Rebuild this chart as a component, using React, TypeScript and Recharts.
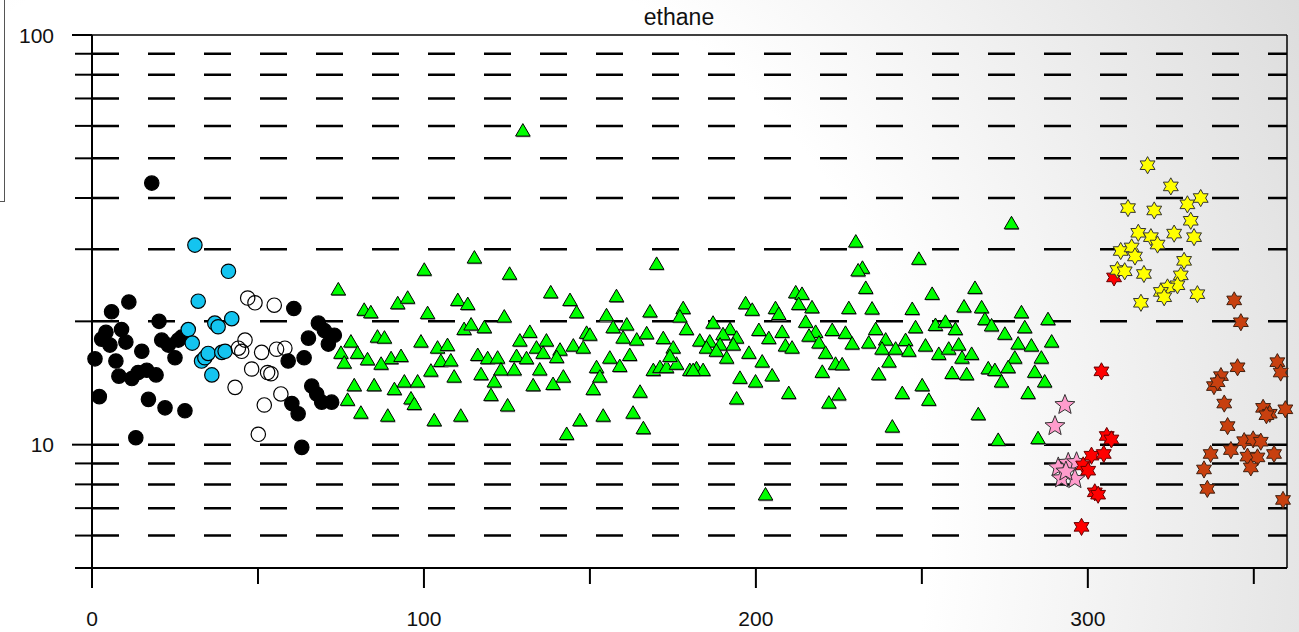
import React from "react";
import { ScatterChart, Scatter, XAxis, YAxis, ReferenceLine } from "recharts";

// axis setup
const xTicks = [0, 50, 100, 150, 200, 250, 300, 350];
const xLabels = [0, 100, 200, 300];
const yTicks = [5, 6, 7, 8, 9, 10, 20, 30, 40, 50, 60, 70, 80, 90, 100];
const yLabels = [10, 100];
const gridLevels = [6, 7, 8, 9, 10, 20, 30, 40, 50, 60, 70, 80, 90];

// series values, [x, y]
const blackDots: [number, number][] = [
  [18.0, 43.5], [11.1, 22.3], [5.9, 21.1], [20.2, 20.0], [4.2, 18.8], [8.9, 19.1],
  [2.9, 18.1], [5.4, 17.5], [10.2, 17.8], [21.0, 18.0], [23.0, 17.5], [26.0, 18.0],
  [27.0, 18.3], [15.0, 16.9], [0.9, 16.2], [7.2, 16.0], [25.0, 16.3], [8.1, 14.7],
  [12.0, 14.5], [13.9, 15.0], [16.5, 15.2], [19.3, 14.8], [2.2, 13.1], [17.0, 12.9],
  [22.0, 12.3], [28.0, 12.1], [13.2, 10.4], [60.8, 21.5], [68.2, 19.8], [70.0, 19.0],
  [73.0, 18.5], [71.2, 17.6], [65.2, 18.2], [63.9, 16.3], [59.1, 16.0], [66.2, 13.9],
  [67.7, 13.3], [69.2, 12.7], [72.2, 12.7], [60.2, 12.6], [62.1, 11.9], [63.2, 9.85],
];

const cyanDots: [number, number][] = [
  [31.0, 30.7], [41.1, 26.5], [32.0, 22.4], [29.0, 19.1], [30.2, 17.7], [37.0, 19.8],
  [38.0, 19.4], [42.1, 20.3], [33.0, 16.0], [34.0, 16.3], [35.0, 16.7], [36.1, 14.8],
  [39.1, 16.8], [40.1, 16.9],
];

const openDots: [number, number][] = [
  [46.9, 22.8], [49.1, 22.2], [54.9, 21.9], [46.1, 18.0], [44.1, 17.2], [45.1, 16.9],
  [51.1, 16.8], [55.6, 17.1], [58.1, 17.2], [48.1, 15.3], [52.9, 15.0], [53.9, 14.9],
  [43.1, 13.8], [51.9, 12.5], [56.9, 13.3], [50.1, 10.6],
];

const greenTriangles: [number, number][] = [
  [74.2, 24.0], [82.0, 21.4], [84.0, 21.1], [92.1, 22.2], [95.1, 22.9], [100.1, 26.8],
  [115.2, 28.7], [125.8, 26.2], [110.2, 22.6], [113.2, 22.1], [101.1, 21.0], [124.2, 20.6],
  [112.1, 19.2], [114.2, 19.7], [118.2, 19.4], [78.0, 17.9], [75.0, 16.8], [80.0, 16.8],
  [76.0, 15.9], [83.0, 16.2], [86.0, 18.4], [88.1, 18.3], [90.1, 16.3], [93.1, 16.5],
  [87.1, 15.8], [99.1, 17.9], [104.1, 17.3], [107.1, 17.55], [105.1, 16.05], [108.1, 16.1],
  [102.1, 15.2], [109.1, 14.7], [116.2, 16.6], [119.2, 16.3], [122.2, 16.35], [127.9, 16.5],
  [123.2, 15.3], [127.2, 15.3], [117.2, 14.9], [121.2, 14.3], [120.2, 13.25], [125.2, 12.5],
  [79.0, 14.0], [85.0, 14.0], [91.1, 13.7], [94.1, 14.3], [98.1, 14.3], [96.1, 13.0],
  [97.1, 12.6], [77.0, 12.9], [81.0, 12.0], [89.1, 11.8], [103.1, 11.5], [111.1, 11.8],
  [128.9, 18.0], [129.8, 58.6],
  [138.2, 23.6], [144.0, 22.6], [146.0, 21.1], [158.0, 23.1], [170.1, 27.7], [155.0, 20.75],
  [157.0, 19.4], [161.1, 19.7], [168.1, 21.2], [178.1, 21.6], [177.1, 20.6], [179.1, 19.2],
  [187.1, 19.9], [192.2, 19.2], [190.1, 18.65], [194.2, 18.3], [131.9, 18.9], [136.9, 18.0],
  [133.9, 17.3], [135.9, 16.8], [141.0, 17.1], [140.0, 16.4], [145.0, 17.5], [148.0, 17.3],
  [149.0, 18.8], [150.0, 18.6], [160.0, 18.3], [164.1, 18.1], [167.1, 18.75], [172.1, 18.25],
  [175.1, 17.3], [183.1, 18.0], [186.1, 17.9], [189.2, 17.6], [193.2, 17.6], [185.1, 17.3],
  [188.1, 17.0], [191.2, 16.35], [130.9, 16.3], [134.9, 15.3], [156.0, 16.35], [162.0, 16.6],
  [159.0, 15.6], [152.0, 15.5], [153.0, 14.7], [169.1, 15.25], [171.1, 15.5], [173.1, 15.5],
  [176.1, 15.8], [174.1, 16.5], [180.1, 15.25], [182.1, 15.4], [184.1, 15.25], [181.1, 15.25],
  [142.0, 14.7], [132.9, 14.0], [138.9, 14.1], [151.0, 13.7], [165.1, 13.5], [147.0, 11.5],
  [154.0, 11.8], [163.0, 12.0], [166.1, 11.0], [143.0, 10.65], [195.2, 14.6], [194.2, 13.0],
  [230.1, 31.4], [249.1, 28.5], [232.1, 27.1], [230.8, 26.7], [233.1, 24.2], [253.1, 23.4],
  [266.0, 24.2], [212.0, 23.6], [213.9, 23.4], [212.9, 22.1], [216.9, 21.7], [196.9, 22.2],
  [198.9, 21.4], [205.9, 21.6], [206.9, 20.9], [228.0, 21.6], [235.0, 21.55], [247.1, 21.5],
  [262.7, 21.8], [215.0, 20.0], [200.9, 19.1], [207.9, 18.9], [203.9, 18.25], [218.0, 18.9],
  [216.0, 18.5], [219.0, 17.8], [223.0, 19.1], [227.0, 18.8], [229.0, 17.7], [236.1, 19.2],
  [239.1, 18.1], [234.0, 17.8], [238.0, 17.2], [245.1, 18.05], [242.1, 17.2], [246.1, 17.0],
  [248.1, 19.4], [254.1, 19.65], [257.1, 20.0], [260.1, 19.2], [251.1, 17.5], [255.1, 16.7],
  [258.1, 17.2], [261.1, 17.6], [262.1, 16.35], [208.9, 17.5], [210.9, 17.3], [197.9, 16.8],
  [221.0, 16.8], [224.0, 15.8], [226.0, 15.75], [240.1, 16.0], [201.9, 16.0], [220.0, 15.1],
  [237.0, 14.9], [259.1, 15.0], [263.5, 14.9], [199.9, 14.3], [204.9, 14.8], [209.9, 13.4],
  [225.0, 13.3], [222.0, 12.7], [244.1, 13.4], [250.1, 14.0], [252.1, 12.9], [241.1, 11.1],
  [202.9, 7.58],
  [277.0, 34.8], [268.0, 21.7], [280.0, 21.1], [269.0, 20.3], [271.0, 19.6], [281.0, 19.4],
  [288.0, 20.3], [275.0, 18.7], [279.0, 17.7], [283.0, 17.5], [289.1, 17.9], [265.0, 16.7],
  [278.0, 16.35], [286.0, 16.35], [270.0, 15.4], [272.0, 15.25], [276.0, 15.5], [284.0, 15.1],
  [274.0, 14.3], [287.0, 14.3], [282.0, 13.4], [267.0, 11.9], [273.0, 10.3], [285.0, 10.4],
];

const pinkStars: [number, number][] = [
  [293.1, 12.5], [290.1, 11.1], [291.1, 8.8], [294.1, 9.03], [296.6, 9.06], [292.1, 8.27],
  [296.1, 8.24], [293.4, 8.6],
];

const redStars: [number, number][] = [
  [307.9, 25.6], [304.1, 15.1], [305.7, 10.5], [307.1, 10.3], [301.1, 9.4], [304.8, 9.49],
  [298.6, 8.9], [300.1, 8.64], [302.1, 7.65], [303.1, 7.55], [298.1, 6.3],
];

const yellowStars: [number, number][] = [
  [318.0, 48.1], [325.0, 42.7], [312.1, 37.8], [320.0, 37.3], [330.0, 38.6], [334.0, 40.0],
  [331.0, 35.2], [315.2, 32.9], [319.0, 32.1], [321.0, 30.8], [326.0, 32.75], [332.0, 32.1],
  [309.9, 29.7], [313.2, 30.3], [314.2, 28.8], [329.0, 28.1], [308.9, 26.7], [311.1, 26.5],
  [316.9, 26.1], [328.0, 25.9], [327.0, 24.5], [324.0, 24.2], [322.0, 23.6], [323.0, 22.9],
  [333.0, 23.3], [316.0, 22.2],
];

const brownStars: [number, number][] = [
  [344.1, 22.5], [346.1, 19.9], [357.1, 15.9], [358.1, 15.0], [345.1, 15.45], [340.1, 14.7],
  [338.0, 13.9], [339.1, 14.2], [341.1, 12.6], [352.8, 12.3], [354.8, 11.9], [353.8, 11.8],
  [359.5, 12.2], [342.1, 11.1], [347.1, 10.2], [349.8, 10.3], [352.1, 10.17], [343.1, 9.7],
  [337.0, 9.49], [348.1, 9.35], [351.1, 9.31], [356.1, 9.49], [349.1, 8.8], [335.0, 8.7],
  [336.0, 7.8], [358.8, 7.33],
];

const toRows = (pts: [number, number][]) => pts.map(([x, y]) => ({ x, y }));

const font = '"Liberation Sans", Arial, sans-serif';

function starPoints(cx: number, cy: number, n: number, outer: number, inner: number) {
  const out: string[] = [];
  for (let i = 0; i < 2 * n; i++) {
    const a = -Math.PI / 2 + (i * Math.PI) / n;
    const r = i % 2 === 0 ? outer : inner;
    out.push(`${cx + r * Math.cos(a)},${cy + r * Math.sin(a)}`);
  }
  return out.join(" ");
}

const dot = (fill: string) => (p: any) => (
  <circle cx={p.cx} cy={p.cy} r={7.2} fill={fill} stroke="#000" strokeWidth={1.2} />
);

const triangle = (p: any) => {
  const pts = (dx: number, dy: number) =>
    `${p.cx + dx - 7.3},${p.cy + dy + 6} ${p.cx + dx},${p.cy + dy - 6.5} ${p.cx + dx + 7.3},${p.cy + dy + 6}`;
  return (
    <g>
      <polygon points={pts(0.6, 1.2)} fill="#888" />
      <polygon points={pts(0, 0)} fill="#00ff00" stroke="#000" strokeWidth={1} />
    </g>
  );
};

const star5 = (fill: string) => (p: any) => (
  <polygon points={starPoints(p.cx, p.cy, 5, 10.5, 4.6)} fill={fill} stroke="#333" strokeWidth={1} />
);

const star6 = (fill: string, stroke: string) => (p: any) => (
  <polygon points={starPoints(p.cx, p.cy, 6, 8.6, 4.9)} fill={fill} stroke={stroke} strokeWidth={1} />
);

const XTick = (props: any) => {
  const { x, y, payload } = props;
  const major = xLabels.includes(payload.value);
  return (
    <g>
      <line x1={x} x2={x} y1={y} y2={y + (major ? 20 : 16)} stroke="#000" strokeWidth={2} />
      {major && (
        <text x={x} y={y + 58} textAnchor="middle" fontSize={21} fontFamily={font} fill="#111">
          {payload.value}
        </text>
      )}
    </g>
  );
};

const YTick = (props: any) => {
  const { x, y, payload } = props;
  const major = yLabels.includes(payload.value);
  return (
    <g>
      <line x1={x - (major ? 20 : 17)} x2={x} y1={y} y2={y} stroke="#000" strokeWidth={2} />
      {major && (
        <text x={x - 38} y={y + 7.5} textAnchor="end" fontSize={21} fontFamily={font} fill="#111">
          {payload.value}
        </text>
      )}
    </g>
  );
};

export default function App() {
  return (
    <div
      style={{
        position: "absolute",
        left: 0,
        top: 0,
        width: 1299,
        height: 632,
        overflow: "hidden",
        background: "radial-gradient(circle at 330px 520px, #ffffff 0px, #ffffff 600px, #d9d9d9 1150px)",
      }}
    >
      <div
        style={{
          position: "absolute",
          left: -100,
          top: -10,
          width: 103,
          height: 210,
          border: "1px solid #555",
        }}
      />
      <div
        style={{
          position: "absolute",
          left: 679,
          top: 6,
          transform: "translateX(-50%)",
          fontFamily: font,
          fontSize: 23,
          lineHeight: "23px",
          color: "#111",
          whiteSpace: "nowrap",
        }}
      >
        ethane
      </div>
      <ScatterChart width={1299} height={632} margin={{ top: 35, right: 12, bottom: 0, left: 0 }}>
        <XAxis
          dataKey="x"
          type="number"
          domain={[0, 360]}
          ticks={xTicks}
          interval={0}
          tick={<XTick />}
          tickLine={false}
          tickSize={0}
          tickMargin={0}
          height={64}
          axisLine={{ stroke: "#000", strokeWidth: 2 }}
        />
        <YAxis
          dataKey="y"
          type="number"
          scale="log"
          domain={[5, 100]}
          allowDataOverflow
          ticks={yTicks}
          interval={0}
          tick={<YTick />}
          tickLine={false}
          tickSize={0}
          tickMargin={0}
          width={92}
          axisLine={{ stroke: "#000", strokeWidth: 2 }}
        />
        {gridLevels.map((v) => (
          <ReferenceLine key={v} y={v} stroke="#000" strokeWidth={2.5} strokeDasharray="27 29" />
        ))}
        <ReferenceLine y={100} stroke="#000" strokeWidth={1.5} />
        <ReferenceLine x={360} stroke="#000" strokeWidth={1.5} />
        <Scatter data={toRows(blackDots)} shape={dot("#000")} isAnimationActive={false} />
        <Scatter data={toRows(cyanDots)} shape={dot("#14c4f0")} isAnimationActive={false} />
        <Scatter data={toRows(openDots)} shape={dot("none")} isAnimationActive={false} />
        <Scatter data={toRows(greenTriangles)} shape={triangle} isAnimationActive={false} />
        <Scatter data={toRows(pinkStars)} shape={star5("#ff9ccc")} isAnimationActive={false} />
        <Scatter data={toRows(redStars)} shape={star6("#ff0000", "#600")} isAnimationActive={false} />
        <Scatter data={toRows(yellowStars)} shape={star6("#ffff00", "#333")} isAnimationActive={false} />
        <Scatter data={toRows(brownStars)} shape={star6("#c8400f", "#402010")} isAnimationActive={false} />
      </ScatterChart>
    </div>
  );
}
